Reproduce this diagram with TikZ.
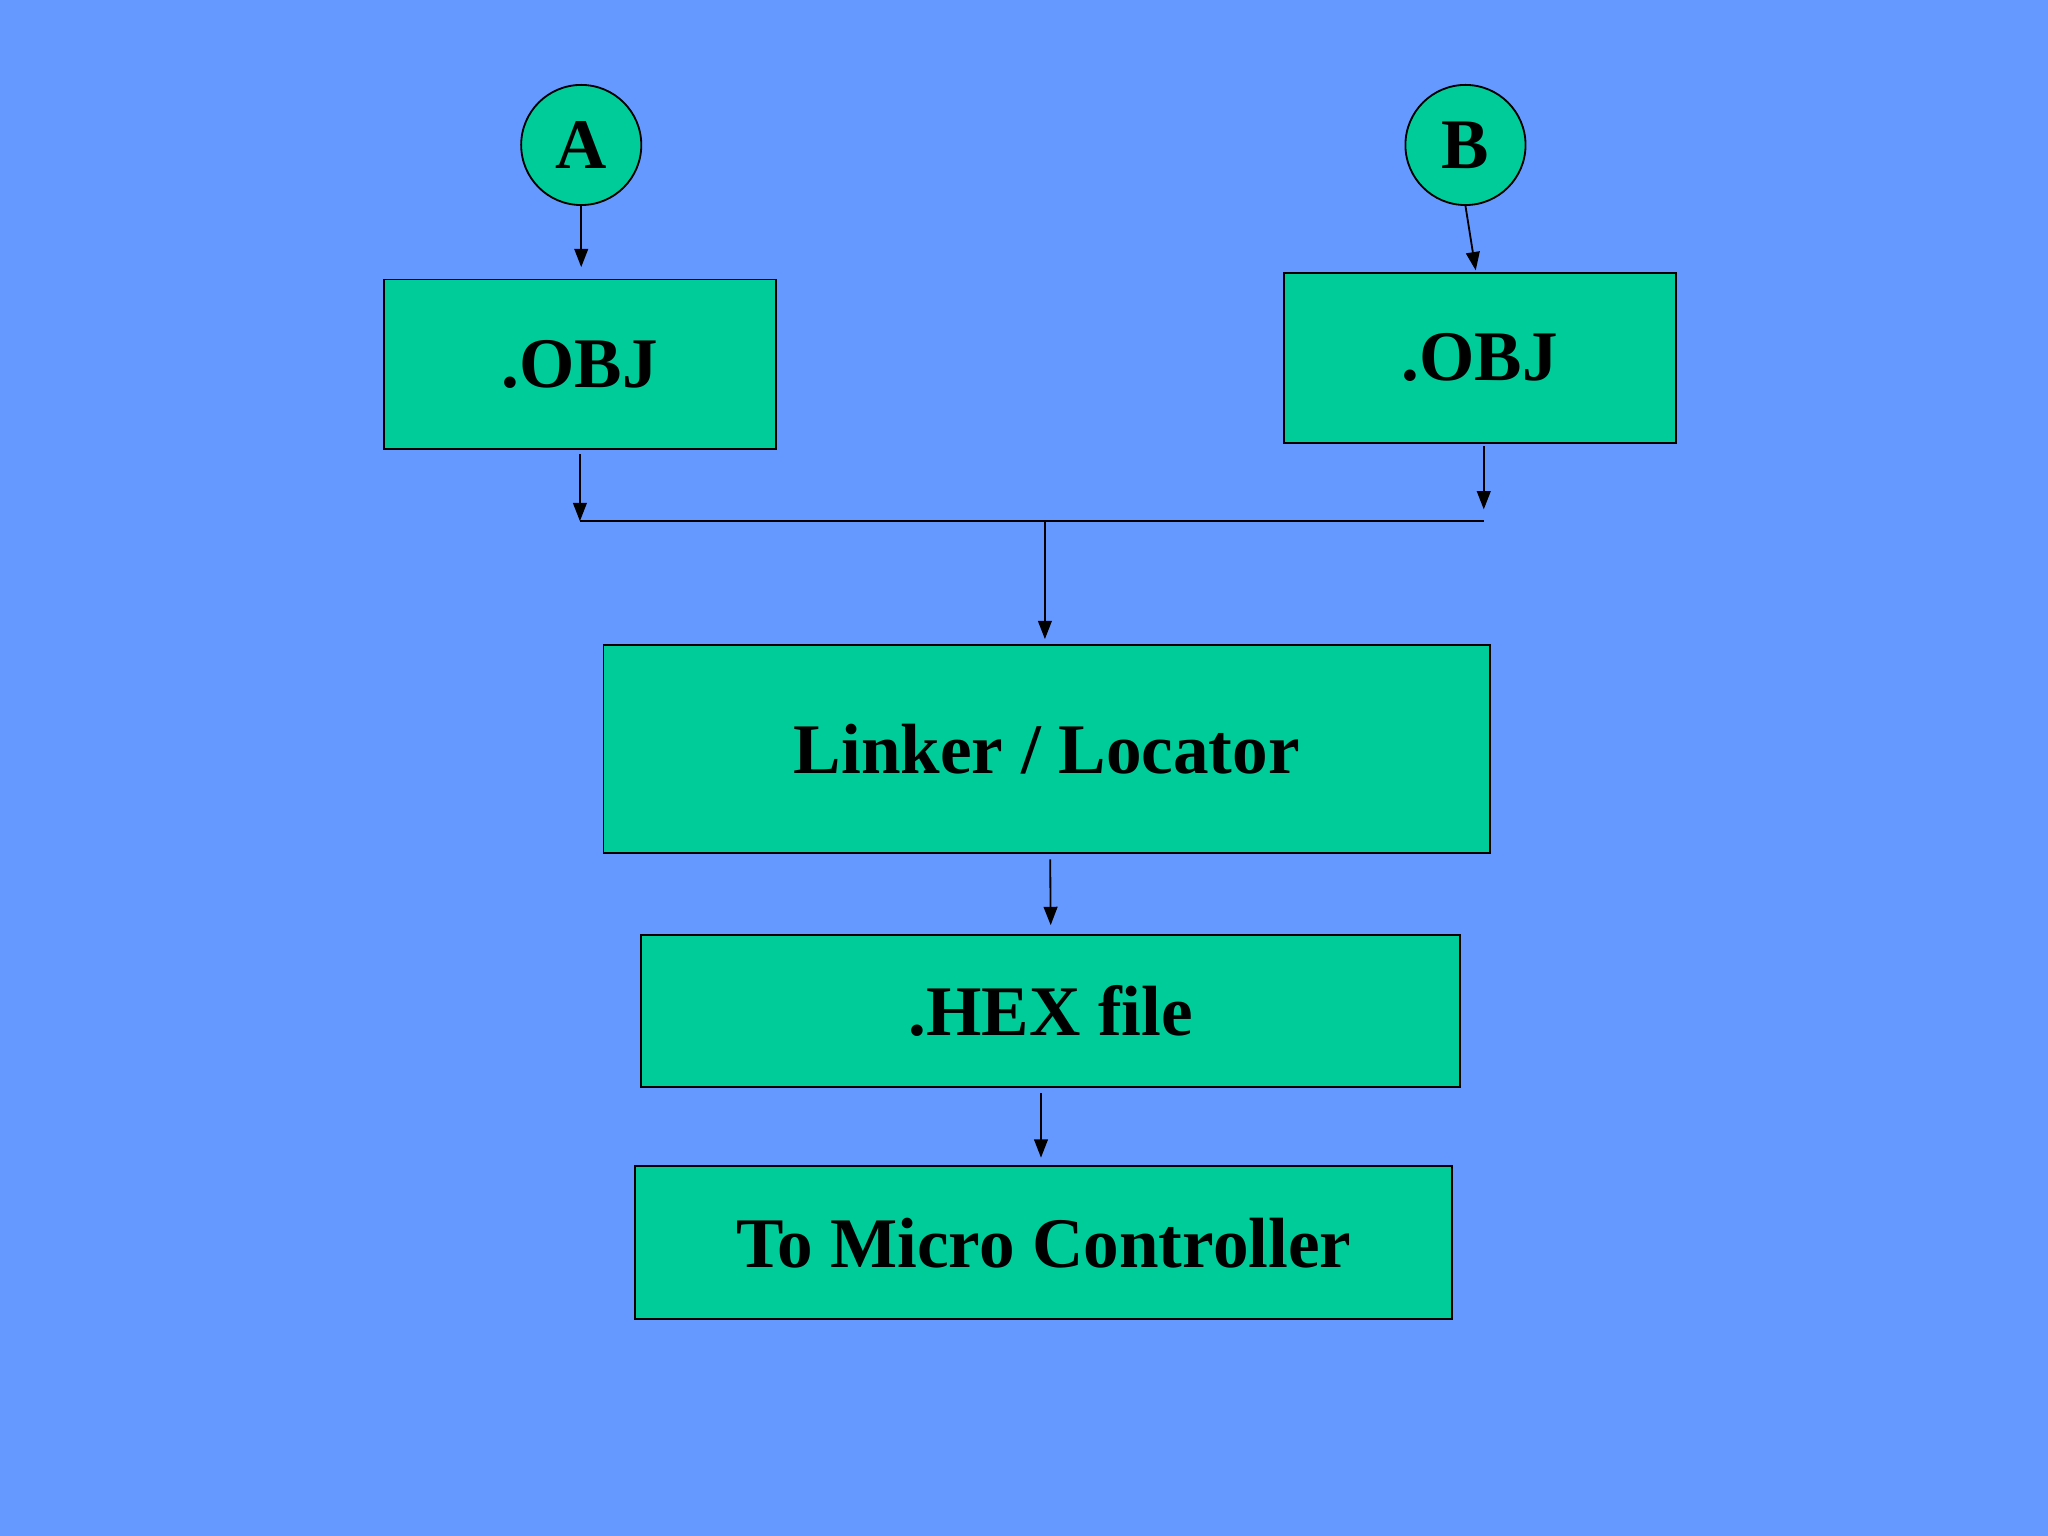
\documentclass[tikz,border=0pt]{standalone}
\usepackage{fontspec}
\setmainfont{Liberation Serif}
\usetikzlibrary{arrows.meta,positioning}
\definecolor{slidebg}{HTML}{6699FF}
\definecolor{boxfill}{HTML}{00CC99}
\tikzset{
    block/.style={draw=black, fill=boxfill, line width=0.8pt, font=\fontsize{31}{36}\selectfont\bfseries},
    source/.style={circle, draw=black, fill=boxfill, line width=0.8pt, minimum size=1.84cm, inner sep=0pt, font=\fontsize{31}{36}\selectfont\bfseries},
    flow/.style={draw=black, line width=0.8pt, -{Triangle[width=6pt,length=8pt]}},
}
\begin{document}
\begin{tikzpicture}[x=0.02cm, y=-0.02cm]
 \fill[slidebg] (0,0) rectangle (1568,1176);
 \useasboundingbox (0,0) rectangle (1568,1176);
	\node[source] (a) at (445,111) {A};
	\node[source] (b) at (1122,111) {B};
	\node[block, minimum width=6cm, minimum height=2.6cm] (obja) at (444,279) {.OBJ};
	\node[block, minimum width=6cm, minimum height=2.6cm] (objb) at (1133,274) {.OBJ};
	\node[block, minimum width=13.58cm, minimum height=3.18cm] (link) at (801.5,573.5) {Linker / Locator};
	\node[block, minimum width=12.54cm, minimum height=2.32cm] (hex) at (804.5,774) {.HEX file};
	\node[block, minimum width=12.52cm, minimum height=2.34cm] (micro) at (799,951.5) {To Micro Controller};
	\coordinate (jl) at (444,399);
	\coordinate (jr) at (1136,399);
	\coordinate (jm) at (800,399);
	\draw[flow] (a.south) -- (a.south |- obja.north) [shorten >=5pt];
	\draw[flow, shorten >=0.02cm] (b.south) -- (1130,208);
	\draw[flow, shorten <=0.06cm] (obja.south -| jl) -- (jl);
	\draw[flow, shorten <=0.04cm, shorten >=0.18cm] (objb.south -| jr) -- (jr);
	\draw[line width=0.8pt] (jl) -- (jr);
	\draw[flow, shorten >=0.08cm] (jm) -- (jm |- link.north);
	\draw[flow, shorten <=0.1cm, shorten >=0.14cm] (804,653) -- (hex.north);
	\draw[flow, shorten <=0.1cm, shorten >=0.12cm] (797,832) -- (micro.north -| 797,0);
\end{tikzpicture}
\end{document}
